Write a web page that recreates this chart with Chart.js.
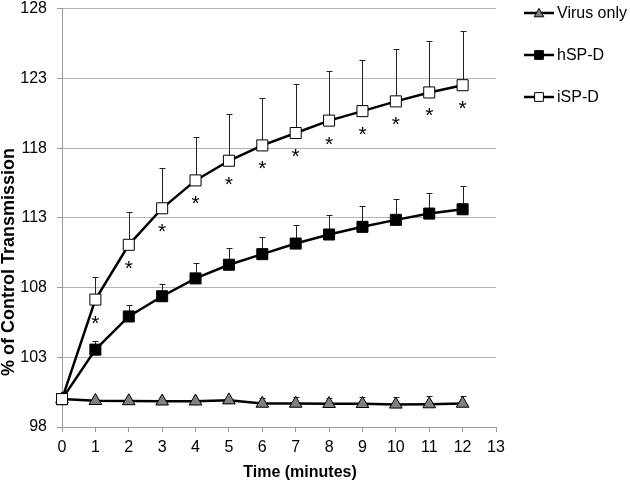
<!DOCTYPE html>
<html>
<head>
<meta charset="utf-8">
<script src="https://cdn.jsdelivr.net/npm/chart.js@4.4.0/dist/chart.umd.min.js"></script>
<style>
  body { margin: 0; background: #fff; }
  canvas { display: block; }
</style>
</head>
<body>
<canvas id="chart" width="630" height="483"></canvas>
<script>
'use strict';

// time points (minutes)
let times = [0, 1, 2, 3, 4, 5, 6, 7, 8, 9, 10, 11, 12];

// % of control transmission
let virusOnly = [100, 99.88, 99.86, 99.84, 99.84, 99.92, 99.68, 99.68, 99.66, 99.66, 99.62, 99.64, 99.68];
let virusErr = [0, 0.1, 0.1, 0.1, 0.1, 0.1, 0.42, 0.45, 0.45, 0.5, 0.55, 0.55, 0.55];

let hspd = [100, 103.55, 105.93, 107.38, 108.66, 109.64, 110.4, 111.16, 111.81, 112.36, 112.86, 113.31, 113.62];
let hspdErr = [0, 0.61, 0.83, 0.88, 1.1, 1.22, 1.26, 1.32, 1.38, 1.5, 1.52, 1.48, 1.69];

let ispd = [100, 107.14, 111.07, 113.69, 115.69, 117.1, 118.2, 119.09, 119.98, 120.66, 121.36, 122.0, 122.52];
let ispdErr = [0, 1.65, 2.38, 2.88, 3.11, 3.38, 3.39, 3.5, 3.54, 3.65, 3.78, 3.69, 3.86];

// significance marks under iSP-D
let ispdStar = [false, true, true, true, true, true, true, true, true, true, true, true, true];

let yTicks = [98, 103, 108, 113, 118, 123, 128];

let seriesNames = ['Virus only', 'hSP-D', 'iSP-D'];

const FONT = '"Liberation Sans", Arial, sans-serif';

function toPoints(values) {
  let pts = [];
  for (let i = 0; i < times.length; i++) {
    pts.push({ x: times[i], y: values[i] });
  }
  return pts;
}

let errorSets = [virusErr, hspdErr, ispdErr];

let extras = {
  id: 'extras',
  beforeDatasetsDraw(chart) {
    // upward-only error bars, drawn under the markers
    let ctx = chart.ctx;
    let xs = chart.scales.x;
    let ys = chart.scales.y;
    ctx.save();
    ctx.strokeStyle = '#222';
    ctx.lineWidth = 1;
    for (let d = 0; d < chart.data.datasets.length; d++) {
      let vals = chart.data.datasets[d].data;
      let errs = errorSets[d];
      for (let i = 0; i < vals.length; i++) {
        if (!errs[i]) continue;
        let px = Math.round(xs.getPixelForValue(vals[i].x)) + 0.5;
        let py0 = ys.getPixelForValue(vals[i].y);
        let py1 = Math.round(ys.getPixelForValue(vals[i].y + errs[i])) + 0.5;
        ctx.beginPath();
        ctx.moveTo(px, py0);
        ctx.lineTo(px, py1);
        ctx.moveTo(px - 3, py1);
        ctx.lineTo(px + 3, py1);
        ctx.stroke();
      }
    }
    ctx.restore();
  },
  afterDatasetsDraw(chart) {
    let ctx = chart.ctx;
    let xs = chart.scales.x;
    let ys = chart.scales.y;
    ctx.save();
    ctx.fillStyle = '#000';
    ctx.font = '21px ' + FONT;
    ctx.textAlign = 'center';
    ctx.textBaseline = 'alphabetic';
    for (let i = 0; i < times.length; i++) {
      if (!ispdStar[i]) continue;
      let px = xs.getPixelForValue(times[i]);
      let py = ys.getPixelForValue(ispd[i]);
      ctx.fillText('*', px, py + 30);
    }
    ctx.restore();
  },
  afterDraw(chart) {
    let ctx = chart.ctx;
    ctx.save();
    // axis titles
    ctx.fillStyle = '#000';
    ctx.textAlign = 'center';
    ctx.textBaseline = 'middle';
    ctx.font = 'bold 16px ' + FONT;
    ctx.fillText('Time (minutes)', 300, 473);
    ctx.font = 'bold 18px ' + FONT;
    ctx.translate(9, 262);
    ctx.rotate(-Math.PI / 2);
    ctx.fillText('% of Control Transmission', 0, 0);
    ctx.restore();

    // legend, line through marker like the original
    ctx.save();
    let rows = [13, 55, 97];
    let sets = chart.data.datasets;
    for (let k = 0; k < sets.length; k++) {
      let y = rows[k];
      ctx.strokeStyle = '#000';
      ctx.lineWidth = 2.5;
      ctx.beginPath();
      ctx.moveTo(524, y);
      ctx.lineTo(554, y);
      ctx.stroke();
      ctx.fillStyle = sets[k].pointBackgroundColor;
      ctx.strokeStyle = '#000';
      ctx.lineWidth = 1;
      let tri = sets[k].pointStyle === 'triangle';
      Chart.helpers.drawPoint(ctx, {
        pointStyle: sets[k].pointStyle,
        radius: tri ? 5.6 : 6.2,
        borderWidth: 1
      }, 539, tri ? y + 1 : y);
      ctx.fillStyle = '#000';
      ctx.font = '16px ' + FONT;
      ctx.textAlign = 'left';
      ctx.textBaseline = 'middle';
      ctx.fillText(seriesNames[k], 557, y + 1);
    }
    ctx.restore();
  }
};

let config = {
  type: 'line',
  data: {
    datasets: [
      {
        label: seriesNames[0],
        data: toPoints(virusOnly),
        borderColor: '#000',
        borderWidth: 2.5,
        pointStyle: 'triangle',
        pointRadius: 7.3,
        pointBackgroundColor: '#808080',
        pointBorderColor: '#000',
        pointBorderWidth: 1,
        clip: false,
        order: 2
      },
      {
        label: seriesNames[1],
        data: toPoints(hspd),
        borderColor: '#000',
        borderWidth: 2.5,
        pointStyle: 'rect',
        pointRadius: 7.8,
        pointBackgroundColor: '#000',
        pointBorderColor: '#000',
        pointBorderWidth: 1,
        clip: false,
        order: 1
      },
      {
        label: seriesNames[2],
        data: toPoints(ispd),
        borderColor: '#000',
        borderWidth: 2.5,
        pointStyle: 'rect',
        pointRadius: 7.8,
        pointBackgroundColor: '#fff',
        pointBorderColor: '#000',
        pointBorderWidth: 1,
        clip: false,
        order: 0
      }
    ]
  },
  options: {
    responsive: false,
    animation: false,
    layout: { padding: { left: 0, top: 7, right: 134, bottom: 0 } },
    plugins: {
      legend: { display: false },
      tooltip: { enabled: false }
    },
    elements: { line: { tension: 0 } },
    scales: {
      x: {
        type: 'linear',
        min: 0,
        max: 13,
        ticks: {
          stepSize: 1,
          color: '#000',
          padding: 6,
          font: { family: FONT, size: 16 }
        },
        grid: {
          drawOnChartArea: false,
          drawTicks: true,
          tickLength: 5,
          color: '#999'
        },
        border: { color: '#999', width: 1 },
        afterFit(scale) {
          scale.height = 56;
          scale.paddingLeft = 0;
          scale.paddingRight = 0;
        }
      },
      y: {
        min: 98,
        max: 128,
        afterBuildTicks(scale) {
          scale.ticks = yTicks.map(v => ({ value: v }));
        },
        ticks: {
          color: '#000',
          padding: 10,
          font: { family: FONT, size: 16 }
        },
        grid: {
          color: '#b4b4b4',
          tickLength: 5,
          tickColor: '#999'
        },
        border: { color: '#999', width: 1 },
        afterFit(scale) {
          scale.width = 62;
          scale.paddingTop = 0;
          scale.paddingBottom = 0;
        }
      }
    }
  },
  plugins: [extras]
};

let myChart = new Chart(document.getElementById('chart'), config);
</script>
</body>
</html>
